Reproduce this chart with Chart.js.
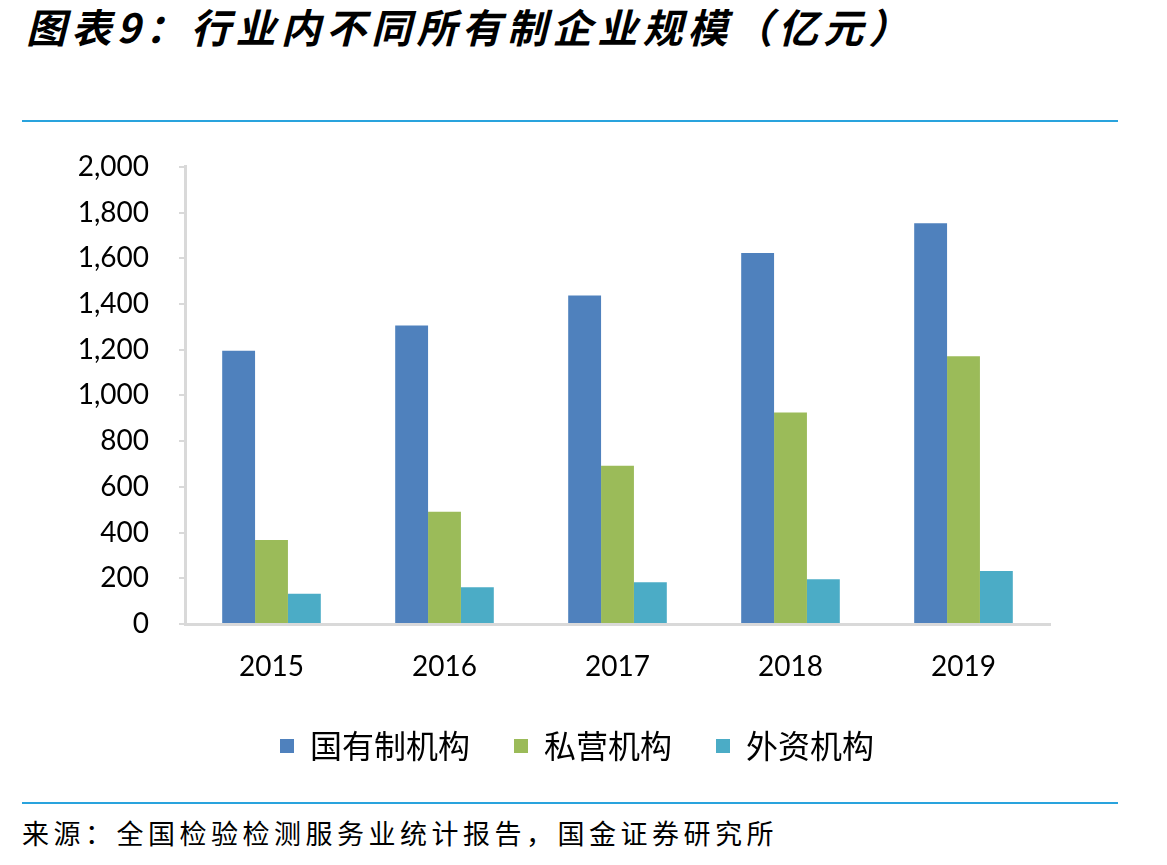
<!DOCTYPE html>
<html lang="zh">
<head>
  <meta charset="UTF-8">
  <title>行业内不同所有制企业规模</title>
  <script src="https://cdn.jsdelivr.net/npm/chart.js@4.4.1/dist/chart.umd.min.js"></script>
  <style>
    html, body { margin: 0; padding: 0; background: #fff; }
    body { width: 1167px; height: 865px; position: relative; overflow: hidden; }
    .title { position: absolute; left: 26px; top: -3px; font-family: "Noto Sans CJK SC", sans-serif;
      font-size: 40px; font-weight: bold; font-style: italic; letter-spacing: 5.2px; color: #000; white-space: nowrap; }
    .rule { position: absolute; left: 22px; width: 1096px; height: 2px; background: #29a3dd; }
    .source { position: absolute; left: 22px; top: 813px; font-family: "Noto Sans CJK SC", sans-serif;
      font-size: 27px; letter-spacing: 4.5px; color: #000; white-space: nowrap; }
    .chart-box { position: absolute; left: 0; top: 120px; width: 1167px; height: 665px; }
  </style>
</head>
<body>
  <div class="title">图表9：行业内不同所有制企业规模（亿元）</div>
  <div class="rule" style="top: 120px;"></div>
  <div class="chart-box"><canvas id="chart_scale" width="1167" height="665"></canvas></div>
  <div class="rule" style="top: 802px;"></div>
  <div class="source">来源：全国检验检测服务业统计报告，国金证券研究所</div>

  <script>
    // 数据
    var years = ['2015', '2016', '2017', '2018', '2019'];
    var seriesNames = ['国有制机构', '私营机构', '外资机构'];
    var stateOwned = [1195, 1306, 1437, 1623, 1753];
    var privateOwned = [368, 491, 692, 925, 1171];
    var foreignOwned = [132, 161, 183, 196, 232];
    var yTicks = [0, 200, 400, 600, 800, 1000, 1200, 1400, 1600, 1800, 2000];

    var colors = ['#4f81bd', '#9bbb59', '#4bacc6'];
    var values = [stateOwned, privateOwned, foreignOwned];

    // 图例整体右移，和原图一样居中在绘图区下方
    var legendShift = {
      id: 'legendShift',
      afterLayout: function (chart) {
        if (chart.legend) {
          chart.legend.left += 52;
          chart.legend.right += 52;
        }
      }
    };

    var ctx = document.getElementById('chart_scale').getContext('2d');
    var chart = new Chart(ctx, {
      type: 'bar',
      data: {
        labels: years,
        datasets: seriesNames.map(function (name, i) {
          return {
            label: name,
            data: values[i],
            backgroundColor: colors[i],
            borderWidth: 0,
            barPercentage: 1,
            categoryPercentage: 0.57
          };
        })
      },
      options: {
        responsive: false,
        animation: false,
        layout: { padding: { left: 0, right: 117, top: 7, bottom: 13 } },
        plugins: {
          tooltip: { enabled: false },
          legend: {
            position: 'bottom',
            labels: {
              boxWidth: 14, boxHeight: 14, padding: 44,
              color: '#000',
              font: { family: '"Noto Sans CJK SC", sans-serif', size: 32 }
            }
          }
        },
        scales: {
          x: {
            grid: { display: false },
            border: { color: '#d9d9d9', width: 3 },
            ticks: { color: '#000', padding: 18, font: { family: 'Lato, sans-serif', size: 28 } },
            afterFit: function (scale) { scale.height = 62; }
          },
          y: {
            min: 0, max: 2000,
            afterBuildTicks: function (scale) {
              scale.ticks = yTicks.map(function (v) { return { value: v }; });
            },
            grid: { drawOnChartArea: false, drawTicks: true, tickLength: 6, color: '#d9d9d9', lineWidth: 2 },
            border: { color: '#d9d9d9', width: 3 },
            ticks: {
              color: '#000', padding: 30,
              font: { family: 'Lato, sans-serif', size: 28 },
              callback: function (v) { return v.toLocaleString('en-US'); }
            },
            afterFit: function (scale) { scale.width = 185; }
          }
        }
      },
      plugins: [legendShift]
    });
  </script>
</body>
</html>
